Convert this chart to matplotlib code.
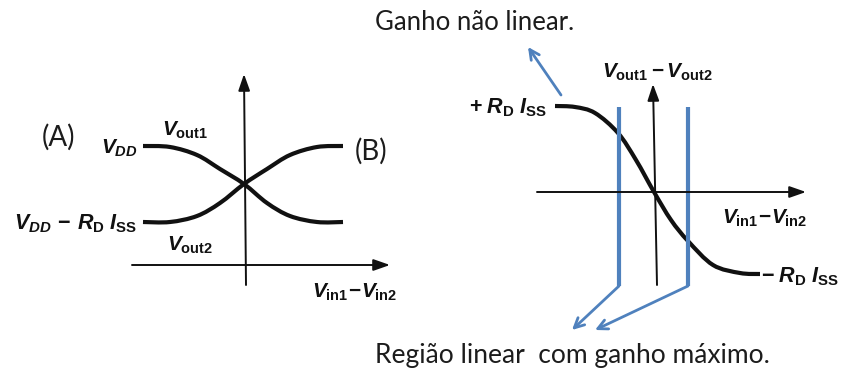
import numpy as np
import matplotlib
matplotlib.use("Agg")
import matplotlib.pyplot as plt
from matplotlib.path import Path
from matplotlib.patches import PathPatch

plt.rcParams["mathtext.fontset"] = "custom"
plt.rcParams["mathtext.it"] = "Liberation Sans:italic:bold"
plt.rcParams["mathtext.rm"] = "Liberation Sans:bold"
plt.rcParams["mathtext.bf"] = "Liberation Sans:bold"

# --- curve samples (panel pixel coordinates, y downwards) ---
vout1_x = [143, 170, 197, 220, 244, 267, 290, 317, 343]
vout1_y = [146, 147, 155, 169, 184, 203, 216, 222, 222]
vout2_x = [143, 170, 197, 220, 244, 267, 290, 317, 343]
vout2_y = [222, 222, 216, 203, 184, 169, 155, 147, 146]
diff_x = [555, 575, 595, 618, 636, 654, 671, 688, 713, 740, 760]
diff_y = [106, 107, 113, 133, 160, 192, 220, 241, 265, 273, 274]

# linear-region bounds on the differential curve
bound_x = [619, 688]

BLUE = "#4f81bd"
INK = "#111111"
TXT = "#1c1c1c"


def smooth_path(xs, ys):
    """Catmull-Rom through the samples, emitted as cubic Bezier segments."""
    p = np.column_stack([xs, ys]).astype(float)
    n = len(p)
    verts = [p[0]]
    codes = [Path.MOVETO]
    for i in range(n - 1):
        p0 = p[i - 1] if i > 0 else p[i]
        p1, p2 = p[i], p[i + 1]
        p3 = p[i + 2] if i + 2 < n else p[i + 1]
        c1 = p1 + (p2 - p0) / 6.0
        c2 = p2 - (p3 - p1) / 6.0
        verts += [c1, c2, p2]
        codes += [Path.CURVE4] * 3
    return Path(verts, codes)


fig = plt.figure(figsize=(8.41, 3.72), dpi=100)
ax = fig.add_axes([0, 0, 1, 1])
ax.set_xlim(0, 841)
ax.set_ylim(372, 0)
ax.axis("off")


def axis_arrow(x0, y0, x1, y1):
    ax.annotate("", xy=(x1, y1), xytext=(x0, y0),
                arrowprops=dict(arrowstyle="-|>,head_length=1.0,head_width=0.35",
                                color=INK, lw=1.4, shrinkA=0, shrinkB=0))


def blue_arrow(x0, y0, x1, y1):
    ax.annotate("", xy=(x1, y1), xytext=(x0, y0),
                arrowprops=dict(arrowstyle="->,head_length=0.7,head_width=0.35",
                                color=BLUE, lw=2.0, shrinkA=0, shrinkB=0))


# ---------- left panel ----------
axis_arrow(132, 265, 390, 265)
axis_arrow(246, 285, 244, 74)
for xs, ys in ((vout1_x, vout1_y), (vout2_x, vout2_y)):
    ax.add_patch(PathPatch(smooth_path(xs, ys), fill=False, color=INK, lw=3.0,
                           capstyle="butt"))

ax.text(59, 137, "(A)", fontsize=20, family="Lato", color=TXT, ha="center", va="center")
ax.text(371, 151, "(B)", fontsize=20, family="Lato", color=TXT, ha="center", va="center")
ax.text(138, 148, r"$V_{DD}$", fontsize=15, color=INK, ha="right", va="center")
ax.text(162, 130, r"$V_{\mathrm{out1}}$", fontsize=15, color=INK, ha="left", va="center")
ax.text(137, 224, r"$V_{DD}\,-\,R_{\mathrm{D}}\;I_{\mathrm{SS}}$", fontsize=15.5, color=INK,
        ha="right", va="center")
ax.text(167, 245, r"$V_{\mathrm{out2}}$", fontsize=15, color=INK, ha="left", va="center")
ax.text(312, 292, r"$V_{\mathrm{in1}}\!-\!V_{\mathrm{in2}}$", fontsize=15, color=INK,
        ha="left", va="center")

# ---------- right panel ----------
axis_arrow(537, 192, 806, 192)
axis_arrow(657, 285, 653, 84)
ax.add_patch(PathPatch(smooth_path(diff_x, diff_y), fill=False, color=INK, lw=3.0,
                       capstyle="butt"))

ax.text(547, 108, r"$+\;R_{\mathrm{D}}\;I_{\mathrm{SS}}$", fontsize=15.5, color=INK,
        ha="right", va="center")
ax.text(761, 277, r"$-\;R_{\mathrm{D}}\;I_{\mathrm{SS}}$", fontsize=15.5, color=INK,
        ha="left", va="center")
ax.text(602, 72, r"$V_{\mathrm{out1}}-V_{\mathrm{out2}}$", fontsize=15, color=INK,
        ha="left", va="center")
ax.text(722, 218, r"$V_{\mathrm{in1}}\!-\!V_{\mathrm{in2}}$", fontsize=15, color=INK,
        ha="left", va="center")

# linear-region markers
for bx in bound_x:
    ax.plot([bx, bx], [107, 286], color=BLUE, lw=3.0, solid_capstyle="butt")
blue_arrow(bound_x[0], 286, 572, 330)
blue_arrow(bound_x[1], 286, 595, 330)
blue_arrow(561, 95, 528, 47)

ax.text(475, 22, "Ganho não linear.", fontsize=18.5, family="Lato", color=TXT,
        ha="center", va="center")
ax.text(572, 355, "Região linear  com ganho máximo.", fontsize=19, family="Lato",
        color=TXT, ha="center", va="center")

fig.savefig("out.png", dpi=100, facecolor="white")
